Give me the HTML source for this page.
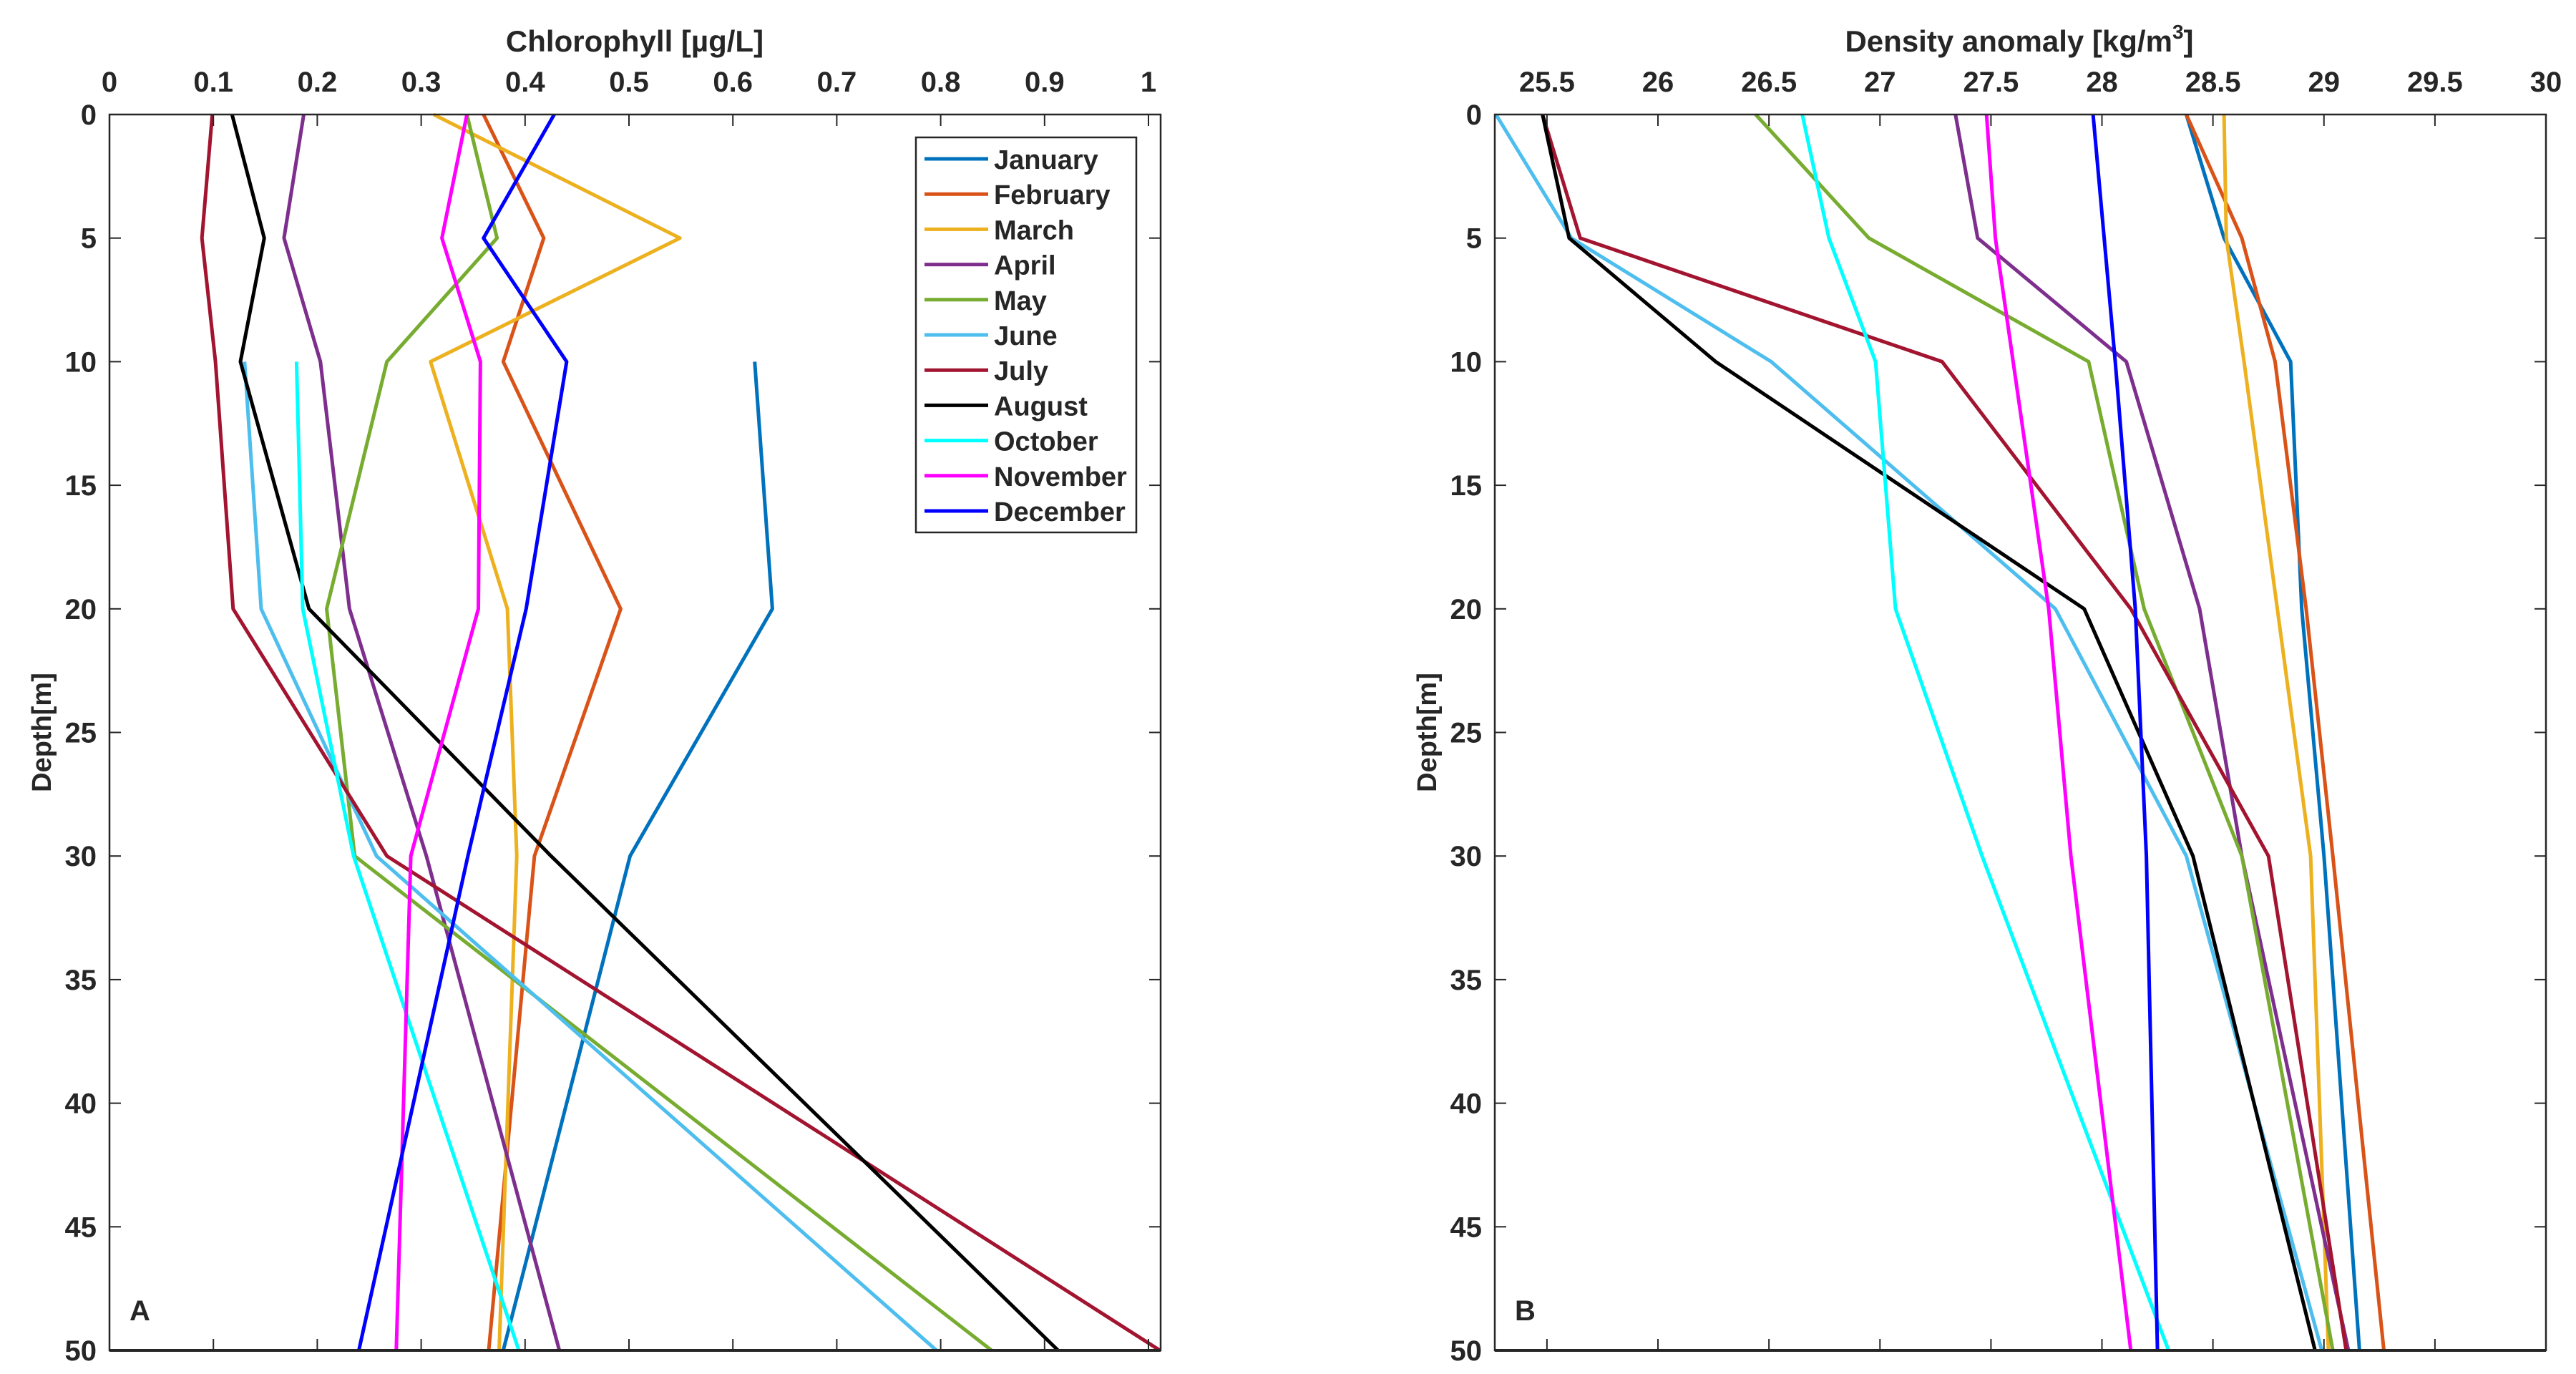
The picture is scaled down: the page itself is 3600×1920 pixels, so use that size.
<!DOCTYPE html>
<html><head><meta charset="utf-8">
<style>
html,body{margin:0;padding:0;background:#fff;}
svg{display:block;}
text{font-family:"Liberation Sans Narrow","Liberation Sans",sans-serif;font-weight:bold;fill:#262626;}
</style></head>
<body>
<svg id="chart" width="3600" height="1920" viewBox="0 0 3600 1920" xmlns="http://www.w3.org/2000/svg"></svg>
<script>
const months = ["January","February","March","April","May","June","July","August","October","November","December"];
const colors = ["#0072BD","#D95319","#EDB120","#7E2F8E","#77AC30","#4DBEEE","#A2142F","#000000","#00FFFF","#FF00FF","#0000FF"];
const depths = [0,5,10,20,30,50];
// Chlorophyll (null = no data)
const chlJan = [null,null,0.621,0.638,0.501,0.379];
const chlFeb = [0.360,0.418,0.379,0.492,0.409,0.365];
const chlMar = [0.312,0.549,0.309,0.383,0.392,0.375];
const chlApr = [0.187,0.168,0.203,0.231,0.305,0.433];
const chlMay = [0.344,0.373,0.267,0.209,0.236,0.849];
const chlJun = [null,null,0.130,0.146,0.257,0.796];
const chlJul = [0.099,0.089,0.102,0.119,0.267,1.011];
const chlAug = [0.118,0.149,0.126,0.192,0.425,0.913];
const chlOct = [null,null,0.180,0.186,0.235,0.394];
const chlNov = [0.344,0.320,0.357,0.355,0.290,0.276];
const chlDec = [0.428,0.360,0.440,0.401,0.345,0.240];
// Density anomaly
const denJan = [28.38,28.55,28.85,28.90,29.00,29.16];
const denFeb = [28.38,28.63,28.78,28.92,29.04,29.27];
const denMar = [28.55,28.56,28.64,28.79,28.94,29.02];
const denApr = [27.34,27.44,28.11,28.44,28.63,29.11];
const denMay = [26.44,26.95,27.94,28.19,28.63,29.04];
const denJun = [25.27,25.61,26.51,27.79,28.38,28.99];
const denJul = [25.48,25.65,27.28,28.13,28.75,29.10];
const denAug = [25.48,25.60,26.26,27.92,28.41,28.96];
const denOct = [26.65,26.77,26.98,27.07,27.46,28.30];
const denNov = [27.48,27.52,27.60,27.76,27.86,28.13];
const denDec = [27.96,28.01,28.06,28.15,28.20,28.25];
const chlTicks = [0,0.1,0.2,0.3,0.4,0.5,0.6,0.7,0.8,0.9,1];
const chlTickLabels = ["0","0.1","0.2","0.3","0.4","0.5","0.6","0.7","0.8","0.9","1"];
const denTicks = [25.5,26,26.5,27,27.5,28,28.5,29,29.5,30];
const denTickLabels = ["25.5","26","26.5","27","27.5","28","28.5","29","29.5","30"];
const depthTicks = [0,5,10,15,20,25,30,35,40,45,50];

const chlSeries = [chlJan,chlFeb,chlMar,chlApr,chlMay,chlJun,chlJul,chlAug,chlOct,chlNov,chlDec];
const denSeries = [denJan,denFeb,denMar,denApr,denMay,denJun,denJul,denAug,denOct,denNov,denDec];

const NS="http://www.w3.org/2000/svg";
const svg=document.getElementById('chart');
function el(tag,attrs,parent){const e=document.createElementNS(NS,tag);for(const k in attrs)e.setAttribute(k,attrs[k]);(parent||svg).appendChild(e);return e;}

function panel(cfg){
  const g=el('g',{});
  
  
  const {x0,x1,y0,y1,xmin,xmax}=cfg;
  const sx=v=>x0+(v-xmin)/(xmax-xmin)*(x1-x0);
  const sy=d=>y0+d/50*(y1-y0);
  // series
  cfg.series.forEach((arr,i)=>{
    const pts=[];
    arr.forEach((v,j)=>{if(v!==null)pts.push(sx(v).toFixed(1)+','+sy(depths[j]).toFixed(1));});
    const p=el('polyline',{points:pts.join(' '),fill:'none',stroke:colors[i],'stroke-width':5,'stroke-linejoin':'round'},g);
    
    
  });
  // box
  const box=el('rect',{x:x0,y:y0,width:x1-x0,height:y1-y0,fill:'none',stroke:'#262626','stroke-width':2.5},g);
  
  
  el('line',{x1:x0,y1:y1,x2:x1,y2:y1,stroke:'#262626','stroke-width':4},g);
  // x ticks
  cfg.xticks.forEach((v,i)=>{
    const x=sx(v);
    el('line',{x1:x,y1:y0,x2:x,y2:y0+16,stroke:'#262626','stroke-width':2},g);
    el('line',{x1:x,y1:y1,x2:x,y2:y1-16,stroke:'#262626','stroke-width':2},g);
    const t=el('text',{x:x,y:y0-32,'font-size':40,'text-anchor':'middle'},g);
    t.textContent=cfg.xlabels[i];
    
    
  });
  depthTicks.forEach(d=>{
    const y=sy(d);
    el('line',{x1:x0,y1:y,x2:x0+16,y2:y,stroke:'#262626','stroke-width':2},g);
    el('line',{x1:x1,y1:y,x2:x1-16,y2:y,stroke:'#262626','stroke-width':2},g);
    const t=el('text',{x:x0-18,y:y+14,'font-size':40,'text-anchor':'end'},g);
    t.textContent=String(d);
    
    
  });
  const xt=el('text',{x:cfg.titleX,y:72,'font-size':42,'text-anchor':'middle'},g);
  xt.innerHTML=cfg.title;
  
  
  const yt=el('text',{x:0,y:0,'font-size':38,'text-anchor':'middle',transform:`translate(${x0-82},${(y0+y1)/2}) rotate(-90)`,style:'font-family:"Liberation Sans",sans-serif'},g);
  yt.textContent='Depth[m]';
  
  
  const pl=el('text',{x:x0+28,y:y1-42,'font-size':40},g);
  pl.textContent=cfg.letter;
  
  
}

panel({name:'panel-a-chlorophyll',x0:153,x1:1622,y0:160,y1:1887,xmin:0,xmax:1.0117,series:chlSeries,
  xticks:chlTicks,xlabels:chlTickLabels,title:'Chlorophyll [µg/L]',titleX:887,letter:'A'});
panel({name:'panel-b-density',x0:2089,x1:3558,y0:160,y1:1887,xmin:25.265,xmax:30,series:denSeries,
  xticks:denTicks,xlabels:denTickLabels,title:'Density anomaly [kg/m<tspan dy="-18" font-size="28">3</tspan><tspan dy="18">]</tspan>',titleX:2822,letter:'B'});

// legend
const lg=el('g',{});


el('rect',{x:1280,y:192,width:308,height:552,fill:'#fff',stroke:'#262626','stroke-width':2.5},lg);
months.forEach((m,i)=>{
  const y=222+i*49.2;
  const ln=el('line',{x1:1292,y1:y,x2:1381,y2:y,stroke:colors[i],'stroke-width':5},lg);
  
  
  const t=el('text',{x:1389,y:y+14,'font-size':38},lg);
  t.textContent=m;
  
  
});
</script>
</body></html>
